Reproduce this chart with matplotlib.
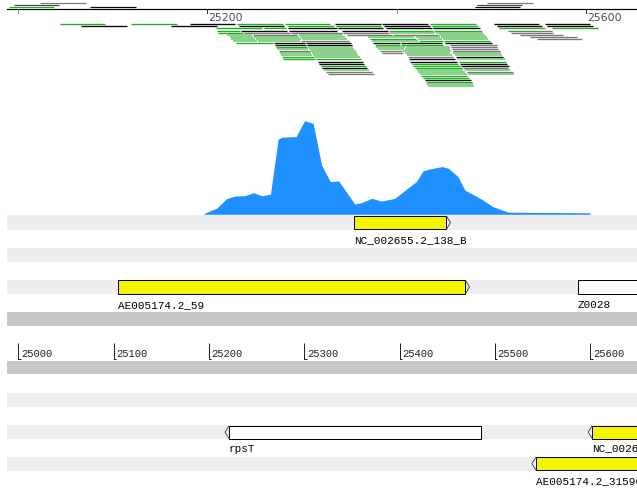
import matplotlib
matplotlib.use("Agg")
import matplotlib.pyplot as plt
from matplotlib.collections import LineCollection
from matplotlib.patches import Rectangle, Polygon

W, H = 637, 490

# ---------------- data ----------------
top_ticks = [25000, 25200, 25400, 25600]
top_tick_labels = ["", "25200", "", "25600"]
bottom_ticks = [25000, 25100, 25200, 25300, 25400, 25500, 25600]
bottom_tick_labels = ["25000", "25100", "25200", "25300", "25400", "25500", "25600"]

# coverage (depth) along the top scale
cov_pos = [25197, 25210, 25221, 25230, 25240, 25249, 25258, 25267, 25275, 25279,
           25294, 25303, 25312, 25321, 25330, 25339, 25356, 25363, 25374, 25384,
           25398, 25413, 25421, 25428, 25435, 25448, 25455, 25465, 25472, 25490,
           25502, 25518, 25604]
cov_depth = [0.3, 2.0, 5.3, 6.1, 6.2, 7.2, 6.2, 6.7, 25.0, 25.7,
             25.9, 31.2, 30.3, 16.4, 10.9, 11.1, 3.4, 3.9, 5.3, 4.4,
             5.3, 9.0, 10.9, 14.5, 15.1, 15.9, 15.3, 12.5, 8.1, 5.0,
             2.5, 0.7, 0.5]

# reads drawn above the top ruler
upper_row = [0, 1, 2, 2, 0, 1, 2]
upper_start = [25024, 24996, 24991, 25076, 25496, 25485, 25483]
upper_end = [25072, 25044, 25038, 25125, 25544, 25532, 25530]
upper_kind = ["a", "d", "g", "k", "a", "d", "k"]

# pileup reads, one list per row
read_start = [
    [25045, 25120, 25182, 25232, 25282, 25335, 25385, 25435, 25503, 25557],
    [25067, 25162, 25234, 25285, 25336, 25387, 25437, 25506, 25559],
    [25209, 25260, 25285, 25338, 25389, 25438, 25508, 25564],
    [25211, 25236, 25287, 25342, 25392, 25440, 25518],
    [25212, 25239, 25289, 25344, 25393, 25442, 25521],
    [25221, 25249, 25297, 25348, 25396, 25445, 25530],
    [25224, 25250, 25298, 25370, 25421, 25447, 25541],
    [25225, 25252, 25300, 25372, 25423, 25449, 25548],
    [25227, 25254, 25299, 25374, 25424, 25450],
    [25231, 25271, 25304, 25375, 25405, 25451],
    [25272, 25306, 25377, 25405, 25456],
    [25273, 25307, 25378, 25410, 25458],
    [25274, 25308, 25380, 25409, 25459],
    [25276, 25310, 25383, 25407, 25460],
    [25277, 25311, 25385, 25409, 25460],
    [25278, 25312, 25411, 25462],
    [25279, 25314, 25412, 25463],
    [25280, 25315, 25413, 25464],
    [25317, 25414, 25466],
    [25318, 25416, 25467],
    [25320, 25417, 25468],
    [25321, 25420, 25470],
    [25323, 25422, 25472],
    [25326, 25423, 25474],
    [25328, 25425, 25475],
    [25426], [25428], [25430], [25431], [25432], [25433],
]
read_end = [
    [25092, 25168, 25230, 25280, 25330, 25384, 25433, 25484, 25550, 25604],
    [25116, 25211, 25281, 25334, 25384, 25435, 25486, 25554, 25607],
    [25258, 25283, 25337, 25386, 25437, 25488, 25557, 25613],
    [25235, 25284, 25337, 25391, 25438, 25490, 25564],
    [25238, 25288, 25342, 25392, 25441, 25491, 25565],
    [25247, 25295, 25344, 25395, 25444, 25493, 25576],
    [25249, 25297, 25346, 25418, 25446, 25496, 25590],
    [25251, 25299, 25348, 25421, 25448, 25497, 25596],
    [25253, 25298, 25350, 25423, 25449, 25499],
    [25270, 25303, 25352, 25404, 25448, 25501],
    [25304, 25353, 25404, 25449, 25506],
    [25306, 25354, 25409, 25456, 25506],
    [25307, 25355, 25408, 25456, 25507],
    [25309, 25357, 25406, 25458, 25509],
    [25310, 25358, 25407, 25456, 25510],
    [25311, 25359, 25459, 25511],
    [25313, 25361, 25460, 25512],
    [25314, 25363, 25462, 25515],
    [25365, 25464, 25516],
    [25366, 25465, 25517],
    [25368, 25467, 25519],
    [25369, 25469, 25518],
    [25371, 25470, 25520],
    [25374, 25472, 25523],
    [25376, 25474, 25524],
    [25474], [25477], [25479], [25480], [25481], [25482],
]
read_kind = [
    "ggkggkkgkk", "kkkggkgkk", "ggkkkkgg", "gkkkgga", "gaaalla", "lalaala",
    "lllllla", "lllglla", "llalgg", "gkkkkk", "kkgga", "gllla", "lllla",
    "alala", "llall", "llll", "glak", "ggkl", "kkg", "kgk", "ggk", "kga",
    "lll", "ala", "all", "g", "g", "k", "g", "l", "l",
]

# features
feat_name = ["NC_002655.2_138_B", "AE005174.2_59", "Z0028", "rpsT",
             "NC_002655.2_137_B", "AE005174.2_31596"]
feat_start = [25352, 25104, 25587, 25221, 25602, 25543]
feat_end = [25449, 25469, 25700, 25485, 25700, 25700]
feat_strand = [1, 1, 1, -1, -1, -1]
feat_yellow = [True, True, False, False, True, True]
feat_track = [0, 2, 2, 4, 4, 5]

# ---------------- style ----------------
kind_color = {"g": "#1fae1f", "l": "#80cc80", "k": "#0a0a0a", "a": "#777777",
              "d": "#444444"}
px = 72.0 / 100.0  # points per pixel

fig = plt.figure(figsize=(W / 100, H / 100), dpi=100)
fig.patch.set_facecolor("white")

ax_top = fig.add_axes([0, 0, 1, 1])
ax_top.set_xlim(25200 - 207 / 0.9475, 25200 + (W - 207) / 0.9475)
ax_top.set_ylim(H, 0)
ax_top.axis("off")

ax_bot = fig.add_axes([0, 0, 1, 1])
ax_bot.set_xlim(25000 - 18.5 / 0.953, 25000 + (W - 18.5) / 0.953)
ax_bot.set_ylim(H, 0)
ax_bot.axis("off")
ax_bot.patch.set_alpha(0)

cov_base = 214.3
ax_cov = fig.add_axes([0, (H - cov_base) / H, 1, 120 / H])
ax_cov.set_xlim(ax_top.get_xlim())
ax_cov.set_ylim(0, 40)
ax_cov.axis("off")
ax_cov.patch.set_alpha(0)

# ---- top ruler ----
ax_top.axhline(9.3, xmin=7 / W, xmax=1, color="black", lw=1.2 * px)
for t, lab in zip(top_ticks, top_tick_labels):
    ax_top.plot([t, t], [9.3, 12.8], color="#333333" if lab else "#888888", lw=1 * px)
    if lab:
        ax_top.annotate(lab, (t, 17.6), xytext=(1.2, 0), textcoords="offset points",
                        ha="left", va="center", fontsize=7.8, color="#4a4a4a",
                        family="DejaVu Sans")

# ---- reads above ruler ----
segs, cols, lws = [], [], []
for r, s, e, k in zip(upper_row, upper_start, upper_end, upper_kind):
    y = 3.5 + 1.75 * r
    segs.append([(s, y), (e, y)])
    cols.append(kind_color[k])
    lws.append(1.2 * px)

# ---- pileup ----
for r, (ss, ee, kk) in enumerate(zip(read_start, read_end, read_kind)):
    y = 24.3 + 2.07 * r
    for s, e, k in zip(ss, ee, kk):
        segs.append([(s, y), (e, y)])
        cols.append(kind_color[k])
        lws.append((1.8 if k == "l" else 1.35) * px)
lc = LineCollection(segs, colors=cols, linewidths=lws, capstyle="butt")
ax_top.add_collection(lc)

# ---- coverage ----
ax_cov.fill_between([cov_pos[0]] + cov_pos + [cov_pos[-1]],
                    [0] + cov_depth + [0], 0, color="#1e90ff", lw=0)

# ---- track bands ----
light = "#eeeeee"
dark = "#c8c8c8"
band_light = [(215.0, 229.5), (247.7, 261.7), (280.0, 294.3),
              (392.7, 406.7), (425.0, 439.0), (456.7, 470.7)]
band_dark = [(311.7, 325.5), (360.7, 374.3)]
for y0, y1 in band_light:
    ax_bot.add_patch(Rectangle((ax_bot.get_xlim()[0] + 7 / 0.953, y0),
                               1000, y1 - y0, color=light, lw=0, zorder=0))
for y0, y1 in band_dark:
    ax_bot.add_patch(Rectangle((ax_bot.get_xlim()[0] + 7 / 0.953, y0),
                               1000, y1 - y0, color=dark, lw=0, zorder=0))

# ---- features ----
track_box = {0: (216.0, 229.3), 2: (280.3, 293.7), 4: (425.7, 438.5), 5: (456.9, 470.3)}
track_label_y = {0: 240.5, 2: 305.0, 4: 448.5, 5: 481.0}
arrow_bp = 4.3
for name, s, e, strand, yel, tr in zip(feat_name, feat_start, feat_end,
                                      feat_strand, feat_yellow, feat_track):
    y0, y1 = track_box[tr]
    ax_bot.add_patch(Rectangle((s, y0), e - s, y1 - y0,
                               facecolor="#f5f500" if yel else "white",
                               edgecolor="black", lw=1.0 * px, zorder=3))
    ym = (y0 + y1) / 2
    if strand > 0:
        pts = [(e, y0), (e + arrow_bp, ym), (e, y1)]
    else:
        pts = [(s, y0), (s - arrow_bp, ym), (s, y1)]
    ax_bot.add_patch(Polygon(pts, closed=False, fill=False, edgecolor="#444444",
                             lw=0.9 * px, zorder=3))
    ax_bot.text(s, track_label_y[tr], name, ha="left", va="center",
                fontsize=7.9, family="Liberation Mono", color="black", zorder=4)

# ---- bottom ruler ----
for t, lab in zip(bottom_ticks, bottom_tick_labels):
    ax_bot.plot([t, t, t + 2.5], [343.3, 359.3, 359.3], color="#222222",
                lw=1.0 * px, solid_capstyle="butt")
    ax_bot.annotate(lab, (t, 353.8), xytext=(1.8, 0), textcoords="offset points",
                    ha="left", va="center", fontsize=7.6, family="Liberation Mono",
                    color="#222222")

fig.savefig("out.png", dpi=100, facecolor="white")
